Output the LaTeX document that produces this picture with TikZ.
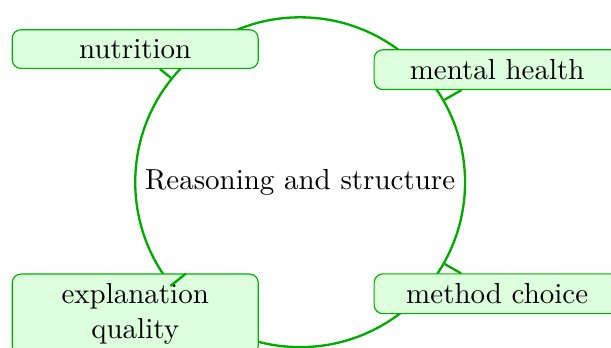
\documentclass[tikz,border=0pt]{standalone}
\usepackage{tikz}

\begin{document}
\begin{tikzpicture}[
  hub/.style={circle, draw=green!67!black, thick, minimum size=4cm, inner sep=2pt},
  topic/.style={rectangle, rounded corners=3pt, draw=green!70!black, thin, fill=green!13,
    text width=2.75cm, align=center},
  link/.style={draw=green!67!black, thick}]
  \useasboundingbox (-3.64,-2.01) rectangle (3.77,2.21);

  % Nodes
  \node[hub] (rs) at (0,0) {Reasoning and structure};
  \node[topic] (nut) at (-2.00,1.615) {nutrition};
  \node[topic] (mh) at (2.39,1.365) {mental health};
  \node[topic] (mc) at (2.39,-1.353) {method choice};
  \node[topic] (eq) at (-2.00,-1.60) {explanation quality};

  % Links
  \draw[link] (rs) -- (nut);
  \draw[link] (rs) -- (mh);
  \draw[link] (rs) -- (mc);
  \draw[link] (rs) -- (eq);
\end{tikzpicture}
\end{document}
